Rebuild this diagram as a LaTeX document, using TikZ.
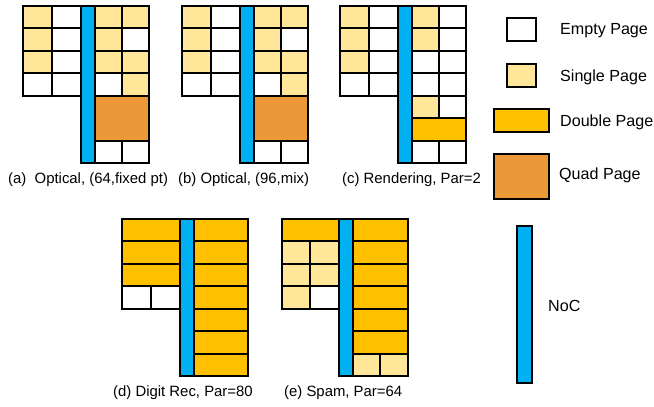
\documentclass[tikz,border=0pt]{standalone}
\usepackage{fontspec}
\setmainfont{Liberation Sans}

\definecolor{singlec}{HTML}{FFE699}
\definecolor{doublec}{HTML}{FFC000}
\definecolor{quadc}{HTML}{EB9938}
\definecolor{nocc}{HTML}{00B0F0}

% geometry of one allocation panel (in pt)
\def\cw{28.75}  % left cell width
\def\nw{14}     % NoC bar width
\def\rw{27.25}  % right cell width
\def\rx{71.5}   % x offset of the right grid
\def\rh{22.5}   % row height

\newcommand\cellL[3]{\path[#3] ({#1*\cw},{#2*\rh}) rectangle ++(\cw,\rh);}
\newcommand\cellR[3]{\path[#3] ({\rx+#1*\rw},{#2*\rh}) rectangle ++(\rw,\rh);}
\newcommand\dblL[2]{\path[#2] (0,{#1*\rh}) rectangle ++({2*\cw},\rh);}
\newcommand\dblR[2]{\path[#2] (\rx,{#1*\rh}) rectangle ++({2*\rw},\rh);}
\newcommand\quadR[2]{\path[#2] (\rx,{#1*\rh}) rectangle ++({2*\rw},{2*\rh});}
\newcommand\nocbar{\path[noc] ({2*\cw},0) rectangle ++(\nw,{7*\rh});}

\tikzset{
  page/.style={draw=black, line width=2pt},
  empty/.style={page, fill=white},
  single/.style={page, fill=singlec},
  double/.style={page, fill=doublec},
  quad/.style={page, fill=quadc},
  noc/.style={page, fill=nocc},
  caption/.style={anchor=west, inner sep=0pt, font=\fontsize{14.9}{17}\selectfont},
  legend/.style={anchor=west, inner sep=0pt, font=\fontsize{16.1}{19}\selectfont},
}

\begin{document}
\begin{tikzpicture}[x=1pt,y=-1pt]
\useasboundingbox (0,0) rectangle (654,407);

% (a) Optical, 64 fixed point
\begin{scope}[shift={(23,5.5)}]
  \foreach \r in {0,1,2} {\cellL{0}{\r}{single}\cellL{1}{\r}{empty}}
  \cellL{0}{3}{empty}\cellL{1}{3}{empty}
  \cellR{0}{0}{single}\cellR{1}{0}{single}
  \cellR{0}{1}{single}\cellR{1}{1}{empty}
  \cellR{0}{2}{single}\cellR{1}{2}{single}
  \cellR{0}{3}{empty}\cellR{1}{3}{single}
  \quadR{4}{quad}
  \cellR{0}{6}{empty}\cellR{1}{6}{empty}
  \nocbar
\end{scope}
\node[caption] (capa) at (8,180) {(a)~~Optical, (64,fixed pt)};

% (b) Optical, 96 mixed
\begin{scope}[shift={(182,5.5)}]
  \foreach \r in {0,1,2} {\cellL{0}{\r}{single}\cellL{1}{\r}{empty}}
  \cellL{0}{3}{empty}\cellL{1}{3}{empty}
  \cellR{0}{0}{single}\cellR{1}{0}{single}
  \cellR{0}{1}{single}\cellR{1}{1}{empty}
  \cellR{0}{2}{single}\cellR{1}{2}{single}
  \cellR{0}{3}{empty}\cellR{1}{3}{single}
  \quadR{4}{quad}
  \cellR{0}{6}{empty}\cellR{1}{6}{empty}
  \nocbar
\end{scope}
\node[caption] (capb) at (178,180) {(b) Optical, (96,mix)};

% (c) Rendering
\begin{scope}[shift={(340,5.5)}]
  \foreach \r in {0,1,2} {\cellL{0}{\r}{single}\cellL{1}{\r}{empty}}
  \cellL{0}{3}{empty}\cellL{1}{3}{empty}
  \cellR{0}{0}{single}\cellR{1}{0}{empty}
  \cellR{0}{1}{single}\cellR{1}{1}{empty}
  \cellR{0}{2}{empty}\cellR{1}{2}{empty}
  \cellR{0}{3}{empty}\cellR{1}{3}{empty}
  \cellR{0}{4}{single}\cellR{1}{4}{empty}
  \dblR{5}{double}
  \cellR{0}{6}{empty}\cellR{1}{6}{empty}
  \nocbar
\end{scope}
\node[caption] (capc) at (342,180) {(c) Rendering, Par=2};

% (d) Digit Rec
\begin{scope}[shift={(122,218.5)}]
  \foreach \r in {0,1,2} {\dblL{\r}{double}}
  \cellL{0}{3}{empty}\cellL{1}{3}{empty}
  \foreach \r in {0,...,6} {\dblR{\r}{double}}
  \nocbar
\end{scope}
\node[caption] (capd) at (113,393) {(d) Digit Rec, Par=80};

% (e) Spam
\begin{scope}[shift={(281.5,218.5)}]
  \dblL{0}{double}
  \cellL{0}{1}{single}\cellL{1}{1}{single}
  \cellL{0}{2}{single}\cellL{1}{2}{single}
  \cellL{0}{3}{single}\cellL{1}{3}{empty}
  \foreach \r in {0,...,5} {\dblR{\r}{double}}
  \cellR{0}{6}{single}\cellR{1}{6}{single}
  \nocbar
\end{scope}
\node[caption] (cape) at (284,393) {(e) Spam, Par=64};

% legend
\path[empty]  (507,18)  rectangle (536,41);
\path[single] (507,64)  rectangle (536,87);
\path[double] (494,109) rectangle (549,132);
\path[quad]   (494,154) rectangle (549,199);
\path[noc]    (517,226) rectangle (532,383);
\node[legend] (lempty)  at (560,31)  {Empty Page};
\node[legend] (lsingle) at (560,77)  {Single Page};
\node[legend] (ldouble) at (560,122) {Double Page};
\node[legend] (lquad)   at (559,175) {Quad Page};
\node[legend] (lnoc)    at (548,306) {NoC};
\end{tikzpicture}
\end{document}
